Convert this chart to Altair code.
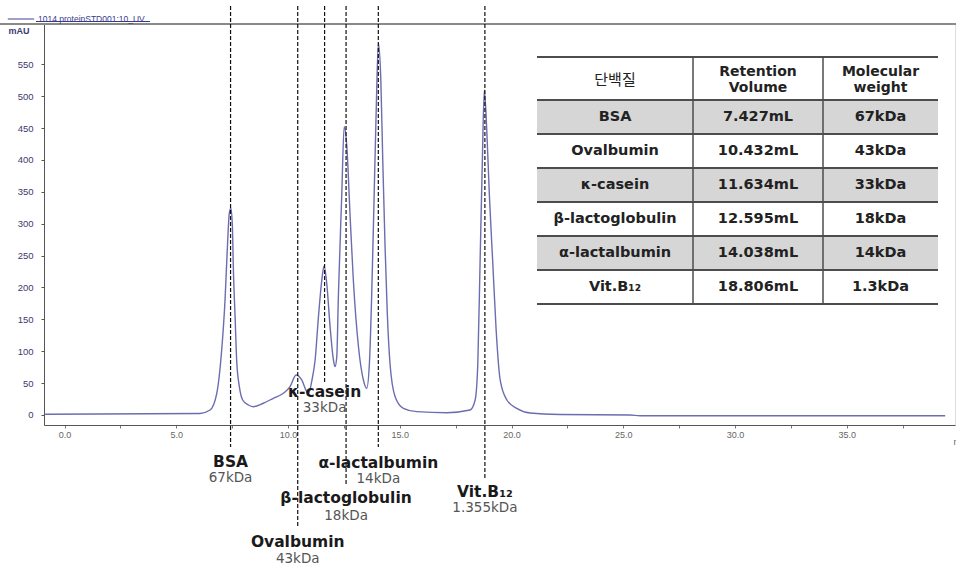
import altair as alt
import pandas as pd

# ---------------- data ----------------
SERIES = "1014 proteinSTD001:10_UV"

# chromatogram trace: elution volume (mL) and absorbance (mAU)
trace_ml = [-0.87, 6.06, 6.51, 6.81, 7.03, 7.18, 7.28, 7.37, 7.44, 7.51, 7.55, 7.63, 7.70,
            7.82, 7.97, 8.22, 8.45, 8.89, 9.34, 9.79, 10.09, 10.36, 10.61, 10.84, 10.92,
            11.07, 11.21, 11.36, 11.51, 11.61, 11.73, 11.88, 12.03, 12.10, 12.18, 12.25,
            12.40, 12.51, 12.63, 12.77, 12.92, 13.15, 13.37, 13.52, 13.64, 13.74, 13.85,
            13.94, 14.04, 14.15, 14.24, 14.34, 14.44, 14.56, 14.79, 15.16, 15.76, 17.10,
            18.14, 18.37, 18.49, 18.59, 18.69, 18.78, 18.89, 19.01, 19.16, 19.31, 19.49,
            19.79, 20.23, 20.83, 22.17, 25.30, 25.75, 39.40]
trace_mau = [1.1, 2.4, 7.8, 34.0, 101.9, 180.4, 258.8, 316.3, 324.2, 295.3, 232.6, 154.2, 86.3,
             44.4, 23.5, 15.7, 13.0, 18.4, 26.2, 34.0, 44.4, 62.7, 54.9, 36.5, 34.5,
             54.9, 86.3, 154.2, 211.7, 233.7, 206.6, 138.5, 86.3, 75.8, 91.4, 185.5,
             342.4, 452.2, 420.8, 316.3, 211.7, 107.1, 54.9, 41.9, 81.1, 185.5, 342.4,
             473.2, 583.0, 525.4, 394.8, 264.0, 159.5, 81.1, 28.7, 10.5, 5.2, 3.6,
             7.8, 23.5, 81.1, 237.9, 394.8, 509.7, 447.0, 342.4, 237.9, 133.3, 54.9,
             23.5, 10.5, 3.1, 0.8, 0.0, -1.1, -1.1]

proteins = ["BSA", "Ovalbumin", "κ-casein", "β-lactoglobulin", "α-lactalbumin", "Vit.B₁₂"]
retention_ml = [7.427, 10.432, 11.634, 12.595, 14.038, 18.806]
retention_txt = ["7.427mL", "10.432mL", "11.634mL", "12.595mL", "14.038mL", "18.806mL"]
mw_table = ["67kDa", "43kDa", "33kDa", "18kDa", "14kDa", "1.3kDa"]
mw_annot = ["67kDa", "43kDa", "33kDa", "18kDa", "14kDa", "1.355kDa"]
table_header = ["단백질", "Retention\nVolume", "Molecular\nweight"]

x_ticks = [0, 2.5, 5, 7.5, 10, 12.5, 15, 17.5, 20, 22.5, 25, 27.5, 30, 32.5, 35, 37.5]
y_ticks = [0, 50, 100, 150, 200, 250, 300, 350, 400, 450, 500, 550]

# ---------------- layout (pixels, relative to plot area) ----------------
W, H = 911, 401
X_DOMAIN = [-0.92, 39.84]
Y_DOMAIN = [-15.7, 613.2]
FONT = "DejaVu Sans, Noto Sans CJK KR, sans-serif"
AXFONT = "Liberation Sans, Arial, sans-serif"
CURVE = "#6c6cb0"

line_top = -18
line_bottom = [423, 503, 359, 461, 423, 454]
name_y = [438, 518, 367.5, 474, 438.5, 467.5]
kda_y = [454, 535, 383.5, 491.5, 455, 483.5]

col_edges = [493, 649, 779, 894]
row_edges = [33, 76, 110, 144, 178, 212, 246, 280]

# ---------------- frames ----------------
trace = pd.DataFrame({"ml": trace_ml, "mau": trace_mau, "series": SERIES})
ann = pd.DataFrame({
    "ml": retention_ml, "name": proteins, "kda": mw_annot,
    "top": line_top, "bottom": line_bottom, "ny": name_y, "ky": kda_y,
})

shade = pd.DataFrame({
    "x0": col_edges[0], "x1": col_edges[-1],
    "y0": [row_edges[i] for i in (1, 3, 5)],
    "y1": [row_edges[i + 1] for i in (1, 3, 5)],
})
hlines = pd.DataFrame({"x0": col_edges[0], "x1": col_edges[-1], "y": row_edges})
vlines = pd.DataFrame({"x": col_edges[1:3], "y0": row_edges[0], "y1": row_edges[-1]})

col_centers = [(col_edges[i] + col_edges[i + 1]) / 2 for i in range(3)]
row_centers = [(row_edges[i] + row_edges[i + 1]) / 2 for i in range(len(row_edges) - 1)]
head_ko = pd.DataFrame({"x": col_centers[:1], "y": row_centers[0] + 1, "t": table_header[:1]})
head_en = pd.DataFrame({"x": col_centers[1:], "y": row_centers[0] - 7, "t": table_header[1:]})
cells = []
for i, (p, r, m) in enumerate(zip(proteins, retention_txt, mw_table)):
    for j, t in enumerate([p, r, m]):
        cells.append({"x": col_centers[j], "y": row_centers[i + 1], "t": t})
cells = pd.DataFrame(cells)

# ---------------- chart ----------------
xs = alt.Scale(domain=X_DOMAIN, nice=False, zero=False)
ys = alt.Scale(domain=Y_DOMAIN, nice=False, zero=False)

curve = alt.Chart(trace).mark_line(strokeWidth=1.4, interpolate="monotone").encode(
    x=alt.X("ml:Q", scale=xs, axis=alt.Axis(
        values=x_ticks, labelExpr="datum.value % 5 == 0 ? format(datum.value, '.1f') : ''",
        title="mL", titleX=909, titleY=12, titleAlign="left", titleAngle=0,
        titleFontSize=9, titleFontWeight="normal", titleColor="#666", titleFont=AXFONT,
        labelFontSize=9, labelColor="#666", labelFont=AXFONT, labelPadding=2,
        tickSize=3, tickColor="#777", domainColor="#555", grid=False)),
    y=alt.Y("mau:Q", scale=ys, axis=alt.Axis(
        values=y_ticks, title="mAU", titleAngle=0, titleX=-36, titleY=6,
        titleAlign="left", titleBaseline="middle", titleFontSize=9,
        titleFontWeight="bold", titleColor="#3a3a70", titleFont=AXFONT,
        labelFontSize=9.5, labelColor="#3a3a70", labelFont=AXFONT, labelPadding=8,
        tickSize=3, tickColor="#555", domainColor="#555", grid=False)),
    color=alt.Color("series:N", scale=alt.Scale(range=[CURVE]), legend=alt.Legend(
        title=None, orient="none", legendX=-37, legendY=-19, padding=0,
        symbolType="stroke", symbolSize=700, symbolStrokeWidth=1.3,
        labelFontSize=8.5, labelColor="#3a3a8a", labelFont=AXFONT, labelOffset=3)),
)

top_border = alt.Chart(trace).mark_rule(color="#8a8a8a", strokeWidth=1.5).encode(
    x=alt.value(-44), x2=alt.value(W + 1), y=alt.value(0))
underline = alt.Chart(trace).mark_rule(color="#3a3a8a", strokeWidth=0.8).encode(
    x=alt.value(-8), x2=alt.value(106), y=alt.value(-2.5))

rules = alt.Chart(ann).mark_rule(color="#111", strokeWidth=1.2, strokeDash=[4, 2]).encode(
    x=alt.X("ml:Q", scale=xs),
    y=alt.Y("top:Q", scale=None),
    y2="bottom:Q",
)
names = alt.Chart(ann).mark_text(font=FONT, fontSize=15.5, fontWeight="bold",
                                 color="#1a1a1a", baseline="middle").encode(
    x=alt.X("ml:Q", scale=xs), y=alt.Y("ny:Q", scale=None), text="name:N")
kdas = alt.Chart(ann).mark_text(font=FONT, fontSize=13.5, color="#555",
                                baseline="middle").encode(
    x=alt.X("ml:Q", scale=xs), y=alt.Y("ky:Q", scale=None), text="kda:N")

tbl_shade = alt.Chart(shade).mark_rect(color="#d6d6d6").encode(
    x=alt.X("x0:Q", scale=None), x2="x1:Q", y=alt.Y("y0:Q", scale=None), y2="y1:Q")
tbl_h = alt.Chart(hlines).mark_rule(color="#4d4d4d", strokeWidth=2).encode(
    x=alt.X("x0:Q", scale=None), x2="x1:Q", y=alt.Y("y:Q", scale=None))
tbl_v = alt.Chart(vlines).mark_rule(color="#4d4d4d", strokeWidth=1.5).encode(
    x=alt.X("x:Q", scale=None), y=alt.Y("y0:Q", scale=None), y2="y1:Q")
tbl_head_ko = alt.Chart(head_ko).mark_text(
    font=FONT, fontSize=15, color="#222", baseline="middle").encode(
    x=alt.X("x:Q", scale=None), y=alt.Y("y:Q", scale=None), text="t:N")
tbl_head_en = alt.Chart(head_en).mark_text(
    font=FONT, fontSize=14, fontWeight="bold", color="#222", baseline="middle",
    lineBreak="\n", lineHeight=16).encode(
    x=alt.X("x:Q", scale=None), y=alt.Y("y:Q", scale=None), text="t:N")
tbl_cells = alt.Chart(cells).mark_text(
    font=FONT, fontSize=14.5, fontWeight="bold", color="#222", baseline="middle").encode(
    x=alt.X("x:Q", scale=None), y=alt.Y("y:Q", scale=None), text="t:N")

chart = alt.layer(
    curve, top_border, underline, rules, names, kdas,
    tbl_shade, tbl_h, tbl_v, tbl_head_ko, tbl_head_en, tbl_cells,
).properties(
    width=W, height=H,
    autosize=alt.AutoSizeParams(type="none"),
    padding={"left": 44, "top": 24, "right": 1, "bottom": 141},
).configure_view(stroke=None).configure(background="white")

chart.save("out.html", embed_options={"renderer": "svg", "actions": False})
